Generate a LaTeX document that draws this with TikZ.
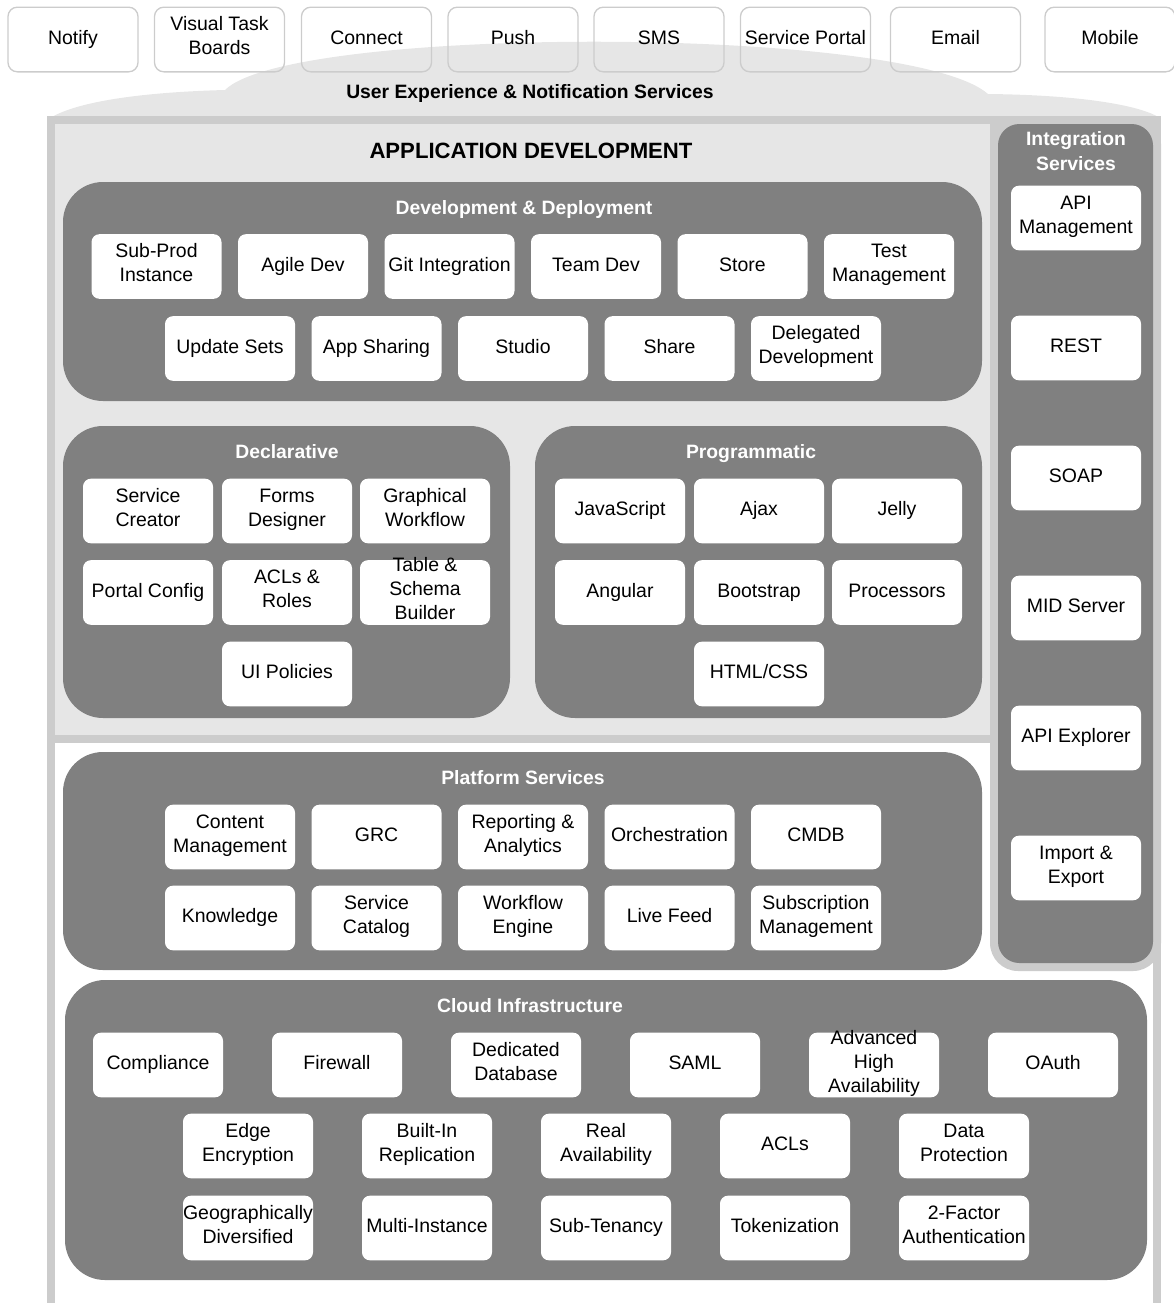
\documentclass[tikz,border=0pt]{standalone}
\usepackage{fontspec}
\setmainfont{Liberation Sans}
\definecolor{panelgray}{HTML}{808080}
\definecolor{framegray}{HTML}{CCCCCC}
\definecolor{areagray}{HTML}{E6E6E6}
\begin{document}
\begin{tikzpicture}[x=0.75pt,y=-0.75pt]
        \tikzset{
          item/.style={fill=white, rounded corners=6pt, minimum width=97.5pt, minimum height=48.5pt, inner sep=0pt, align=center, font=\fontsize{14.6}{18}\selectfont, execute at begin node=\strut, execute at end node=\strut},
          tall text/.style={execute at begin node={}, execute at end node={}, inner ysep=-2pt},
          channel/.style={item, fill=none, draw=framegray, line width=1pt, rounded corners=7pt},
          panel/.style={fill=panelgray, rounded corners=30pt},
          panel title/.style={text=white, align=center, inner sep=0pt, font=\fontsize{14.5}{18.75}\bfseries\selectfont, execute at begin node=\strut, execute at end node=\strut},
        }
        \useasboundingbox (0,0) rectangle (1174,1303);
        % cloud and frame
        \fill[areagray] (50,118) .. controls (80,100) and (150,92) .. (225,90)
          .. controls (290,25) and (910,25) .. (988,94)
          .. controls (1080,95) and (1140,105) .. (1160,118) -- cycle;
        \fill[framegray] (47,116) rectangle (1161,1303);
        \fill[areagray] (55,124) rectangle (990,735);
        \fill[white] (55,743) rectangle (1153,1303);
        \fill[framegray, rounded corners=21pt] (990,116) rectangle (1161,971);
        \fill[panelgray, rounded corners=16pt] (998,124) rectangle (1153,963);
        \fill[panel] (63,182) rectangle (982,401);
        \fill[panel] (63,426) rectangle (510,718);
        \fill[panel] (535,426) rectangle (982,718);
        \fill[panel] (63,752) rectangle (982,970);
        \fill[panel] (65,980) rectangle (1147,1280);
        % channels
        \node[channel] (notify) at (73,39.5) {Notify};
        \node[channel] (vtboards) at (219.5,39.5) {Visual Task\\Boards};
        \node[channel] (connect) at (366.5,39.5) {Connect};
        \node[channel] (push) at (513,39.5) {Push};
        \node[channel] (sms) at (659,39.5) {SMS};
        \node[channel] (portal) at (805.5,39.5) {Service Portal};
        \node[channel] (email) at (955.5,39.5) {Email};
        \node[channel] (mobile) at (1110,39.5) {Mobile};
        \node[font=\fontsize{14.5}{18}\bfseries\selectfont] (uxtitle) at (530,93) {User Experience \& Notification Services};
        \node[font=\fontsize{16.6}{20}\bfseries\selectfont] (apptitle) at (531,151) {APPLICATION DEVELOPMENT};
        % development & deployment
        \node[panel title] (devtitle) at (524,209) {Development \& Deployment};
        \node[item] (subprod) at (156.5,266.5) {Sub-Prod\\Instance};
        \node[item] (agiledev) at (303,266.5) {Agile Dev};
        \node[item] (gitint) at (449.5,266.5) {Git Integration};
        \node[item] (teamdev) at (596,266.5) {Team Dev};
        \node[item] (store) at (742.5,266.5) {Store};
        \node[item] (testmgmt) at (889,266.5) {Test\\Management};
        \node[item] (updsets) at (230,348.5) {Update Sets};
        \node[item] (appshare) at (376.5,348.5) {App Sharing};
        \node[item] (studio) at (523,348.5) {Studio};
        \node[item] (share) at (669.5,348.5) {Share};
        \node[item] (delegdev) at (816,348.5) {Delegated\\Development};
        % declarative
        \node[panel title] (decltitle) at (287,453) {Declarative};
        \node[item] (svccreator) at (148,511) {Service\\Creator};
        \node[item] (formsdes) at (287,511) {Forms\\Designer};
        \node[item] (graphwf) at (425,511) {Graphical\\Workflow};
        \node[item] (portalcfg) at (148,592.5) {Portal Config};
        \node[item] (aclroles) at (287,592.5) {ACLs \&\\Roles};
        \node[item, tall text] (tableschema) at (425,592.5) {Table \&\\Schema\\Builder};
        \node[item] (uipol) at (287,674) {UI Policies};
        % programmatic
        \node[panel title] (progtitle) at (751,453) {Programmatic};
        \node[item] (js) at (620,511) {JavaScript};
        \node[item] (ajax) at (759,511) {Ajax};
        \node[item] (jelly) at (897,511) {Jelly};
        \node[item] (angular) at (620,592.5) {Angular};
        \node[item] (bootstrap) at (759,592.5) {Bootstrap};
        \node[item] (processors) at (897,592.5) {Processors};
        \node[item] (htmlcss) at (759,674) {HTML/CSS};
        % platform services
        \node[panel title] (plattitle) at (523,779) {Platform Services};
        \node[item] (contentmgmt) at (230,837) {Content\\Management};
        \node[item] (grc) at (376.5,837) {GRC};
        \node[item] (reporting) at (523,837) {Reporting \&\\Analytics};
        \node[item] (orch) at (669.5,837) {Orchestration};
        \node[item] (cmdb) at (816,837) {CMDB};
        \node[item] (knowledge) at (230,918) {Knowledge};
        \node[item] (svccat) at (376.5,918) {Service\\Catalog};
        \node[item] (wfengine) at (523,918) {Workflow\\Engine};
        \node[item] (livefeed) at (669.5,918) {Live Feed};
        \node[item] (submgmt) at (816,918) {Subscription\\Management};
        % cloud infrastructure
        \node[panel title] (cloudtitle) at (530,1007) {Cloud Infrastructure};
        \node[item] (compliance) at (158,1065) {Compliance};
        \node[item] (firewall) at (337,1065) {Firewall};
        \node[item] (dedidb) at (516,1065) {Dedicated\\Database};
        \node[item] (saml) at (695,1065) {SAML};
        \node[item, tall text] (advha) at (874,1065) {Advanced\\High\\Availability};
        \node[item] (oauth) at (1053,1065) {OAuth};
        \node[item] (edgeenc) at (248,1146) {Edge\\Encryption};
        \node[item] (builtinrep) at (427,1146) {Built-In\\Replication};
        \node[item] (realavail) at (606,1146) {Real\\Availability};
        \node[item] (acls) at (785,1146) {ACLs};
        \node[item] (dataprot) at (964,1146) {Data\\Protection};
        \node[item] (geodiv) at (248,1228) {Geographically\\Diversified};
        \node[item] (multiinst) at (427,1228) {Multi-Instance};
        \node[item] (subten) at (606,1228) {Sub-Tenancy};
        \node[item] (token) at (785,1228) {Tokenization};
        \node[item] (twofactor) at (964,1228) {2-Factor\\Authentication};
        % integration services
        \node[panel title] (inttitle) at (1076,155) {Integration\\Services};
        \node[item] (apimgmt) at (1076,218) {API\\Management};
        \node[item] (rest) at (1076,348) {REST};
        \node[item] (soap) at (1076,478) {SOAP};
        \node[item] (midserver) at (1076,608) {MID Server};
        \node[item] (apiexp) at (1076,738) {API Explorer};
        \node[item] (importexp) at (1076,868) {Import \&\\Export};
    \end{tikzpicture}
\end{document}
